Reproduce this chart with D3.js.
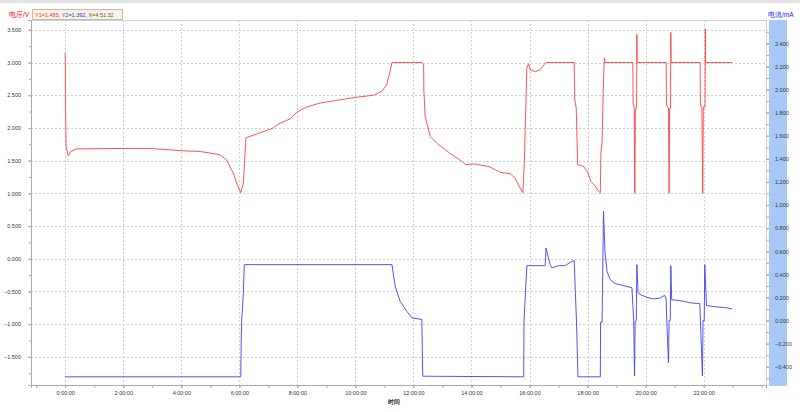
<!DOCTYPE html>
<html><head><meta charset="utf-8">
<script src="https://cdn.jsdelivr.net/npm/d3@7"></script>
<style>
body{margin:0;background:#fff}
svg{display:block;font-family:"Liberation Sans",Arial,sans-serif}
</style>
</head><body><svg width="800" height="412"></svg>
<script>
// voltage curve (hours, V)
var voltT = [0,0.005,0.03,0.1,0.2,0.4,1.5,2.9,4.06,4.65,5.33,5.56,5.79,5.93,6.05,6.14,6.19,6.23,7.06,7.17,7.35,7.75,7.98,8.32,8.78,9.47,10.05,10.62,10.91,11.08,11.18,11.26,12.29,12.35,12.36,12.4,12.58,12.8,13.26,13.6,13.8,14.1,14.6,15.0,15.34,15.5,15.68,15.77,15.82,15.86,15.91,15.97,16.02,16.2,16.37,16.54,16.6,17.54,17.56,17.61,17.66,17.86,18.0,18.12,18.27,18.38,18.44,18.46,18.5,18.55,18.58,18.6,19.56,19.57,19.61,19.63,19.65,19.69,19.70,19.71,20.71,20.72,20.79,20.81,20.83,20.86,20.87,20.88,21.88,21.89,21.94,21.97,21.99,22.05,22.06,22.07,22.98];
var voltV = [3.15,2.5,1.72,1.575,1.64,1.68,1.685,1.687,1.65,1.64,1.59,1.51,1.31,1.13,1.01,1.16,1.56,1.85,1.98,2.0,2.06,2.14,2.24,2.32,2.38,2.43,2.47,2.50,2.56,2.66,2.84,3.0,3.0,2.97,2.58,2.18,1.87,1.77,1.61,1.51,1.44,1.45,1.41,1.32,1.30,1.23,1.08,1.01,1.46,2.13,2.92,2.98,2.89,2.86,2.89,2.99,3.0,3.0,2.43,2.30,1.44,1.41,1.33,1.18,1.11,1.03,1.01,1.62,1.77,2.74,3.07,3.0,3.0,2.38,2.30,1.0,2.30,2.30,3.43,3.0,3.0,2.35,2.30,1.0,2.30,2.30,3.46,3.0,3.0,2.35,2.32,1.0,2.32,2.32,3.51,3.0,3.0];

// current curve (hours, mA)
var currT = [0,6.05,6.06,6.08,6.14,6.17,11.26,11.37,11.54,11.77,11.95,12.29,12.32,15.8,15.81,15.86,15.91,16.54,16.57,16.71,16.77,17.0,17.23,17.4,17.54,17.58,17.62,17.67,18.44,18.45,18.5,18.55,18.6,18.67,18.78,18.95,19.24,19.53,19.59,19.62,19.64,19.68,19.70,19.74,19.82,20.05,20.28,20.51,20.66,20.71,20.73,20.79,20.81,20.85,20.87,20.9,21.08,21.31,21.54,21.87,21.89,21.96,21.98,22.02,22.04,22.1,22.46,22.81,22.98];
var currI = [-0.487,-0.487,-0.25,-0.006,0.24,0.484,0.484,0.297,0.167,0.08,0.023,0.009,-0.482,-0.487,-0.015,0.24,0.475,0.475,0.628,0.484,0.455,0.475,0.475,0.504,0.519,0.253,-0.015,-0.487,-0.487,-0.015,-0.015,0.945,0.6,0.426,0.354,0.32,0.303,0.283,-0.006,-0.48,-0.006,0,0.484,0.24,0.225,0.2,0.187,0.196,0.219,0.18,0,-0.366,0,0,0.475,0.18,0.175,0.167,0.153,0.147,0,-0.48,0,0,0.484,0.13,0.118,0.11,0.101];

var voltTicks = [-1.5,-1,-0.5,0,0.5,1,1.5,2,2.5,3,3.5];
var currTicks = [-0.4,-0.2,0,0.2,0.4,0.6,0.8,1.0,1.2,1.4,1.6,1.8,2.0,2.2,2.4];
var hourTicks = [0,2,4,6,8,10,12,14,16,18,20,22];

var svg = d3.select("svg");
var pL = 31, pR = 766, pT = 20, pB = 385;

var x = d3.scaleLinear().domain([-1.18, 24.15]).range([pL, pR]);
var yV = d3.scaleLinear().domain([-1.93, 3.65]).range([pB, pT]);
var yI = d3.scaleLinear().domain([-0.558, 2.602]).range([pB, pT]);

// top bar
svg.append("rect").attr("x",0).attr("y",0).attr("width",800).attr("height",3).attr("fill","#e2e2e2");

// grid
var grid = svg.append("g").attr("stroke","#cfcfcf").attr("stroke-dasharray","2,2").attr("stroke-width",1);
voltTicks.forEach(function(v){
  var yy = Math.round(yV(v))+0.5;
  grid.append("line").attr("x1",pL).attr("x2",pR).attr("y1",yy).attr("y2",yy);
});
hourTicks.forEach(function(h){
  var xx = Math.round(x(h))+0.5;
  grid.append("line").attr("x1",xx).attr("x2",xx).attr("y1",pT).attr("y2",pB);
});

// frame
svg.append("rect").attr("x",pL+0.5).attr("y",pT+0.5).attr("width",pR-pL).attr("height",pB-pT)
  .attr("fill","none").attr("stroke","#d0d0d0");

// right band
svg.append("rect").attr("x",769).attr("y",pT).attr("width",18).attr("height",pB-pT+1).attr("fill","#a8c8f8");

function styleAxis(g){
  g.select(".domain").attr("stroke","#aaa");
  g.selectAll(".tick line").attr("stroke","#aaa");
  g.selectAll("text").attr("fill","#333").attr("font-size","5.5px");
}

// left axis
var minorV = d3.range(-1.75, 3.6, 0.25);
svg.append("g").attr("transform","translate("+pL+",0)")
  .call(d3.axisLeft(yV).tickValues(minorV).tickSize(2).tickFormat(""))
  .call(styleAxis);
svg.append("g").attr("transform","translate("+pL+",0)")
  .call(d3.axisLeft(yV).tickValues(voltTicks).tickSize(3).tickPadding(7).tickFormat(d3.format(".3f")))
  .call(styleAxis);

// right axis
var minorI = d3.range(-0.5, 2.55, 0.1);
svg.append("g").attr("transform","translate("+pR+",0)")
  .call(d3.axisRight(yI).tickValues(minorI).tickSize(3).tickFormat(""))
  .call(styleAxis).call(function(g){ g.select(".domain").remove(); });
svg.append("g").attr("transform","translate("+pR+",0)")
  .call(d3.axisRight(yI).tickValues(currTicks).tickSize(3).tickPadding(6).tickFormat(d3.format(".3f")))
  .call(styleAxis).call(function(g){ g.select(".domain").remove(); });

// bottom axis
svg.append("g").attr("transform","translate(0,"+pB+")")
  .call(d3.axisBottom(x).tickValues(d3.range(-1, 25, 1)).tickSize(3).tickFormat(""))
  .call(styleAxis);
svg.append("g").attr("transform","translate(0,"+pB+")")
  .call(d3.axisBottom(x).tickValues(hourTicks).tickSize(3).tickPadding(3).tickFormat(function(h){ return h + ":00:00"; }))
  .call(styleAxis);

// axis titles
svg.append("text").attr("x",9).attr("y",17).attr("font-size","6.5px").attr("fill","#e00").text("电压/V");
svg.append("text").attr("x",768).attr("y",17).attr("font-size","6.5px").attr("fill","#22e").text("电流/mA");
svg.append("text").attr("x",394).attr("y",404).attr("text-anchor","middle").attr("font-size","5.5px")
  .attr("font-weight","bold").attr("fill","#222").text("时间");

// curves
var lineV = d3.line().x(function(d,i){ return x(voltT[i]); }).y(function(d){ return yV(d); });
var lineI = d3.line().x(function(d,i){ return x(currT[i]); }).y(function(d){ return yI(d); });

svg.append("path").datum(currI).attr("d",lineI).attr("fill","none").attr("stroke","#4040f0").attr("stroke-width",0.9);
svg.append("path").datum(voltV).attr("d",lineV).attr("fill","none").attr("stroke","#ff4040").attr("stroke-width",0.9);

// cursor readout
var tip = svg.append("g");
tip.append("rect").attr("x",32.5).attr("y",9.5).attr("width",90).attr("height",10)
  .attr("fill","#fbf3e2").attr("stroke","#bbb");
var tt = tip.append("text").attr("x",35).attr("y",16.5).attr("font-size","5.5px");
tt.append("tspan").attr("fill","#f03030").text("Y1=1.485,");
tt.append("tspan").attr("fill","#3030e0").text(" Y2=1.392,");
tt.append("tspan").attr("fill","#555").text(" X=4:51:32");
</script>
</body></html>
